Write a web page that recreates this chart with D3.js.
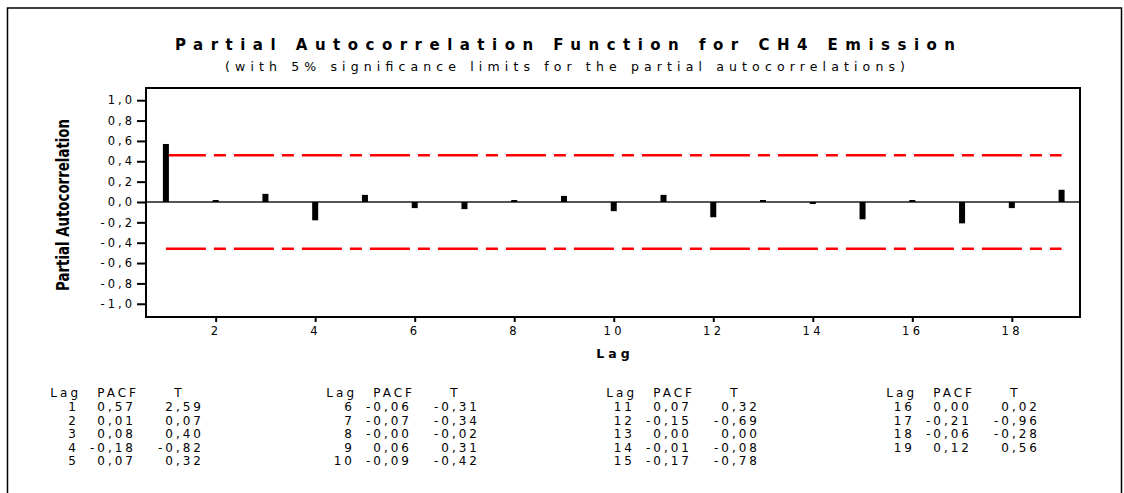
<!DOCTYPE html>
<html>
<head>
<meta charset="utf-8">
<script src="https://cdn.jsdelivr.net/npm/d3@7"></script>
<style>
  html, body { margin: 0; padding: 0; background: #fff; }
  svg { display: block; }
  text { font-family: "DejaVu Sans", Verdana, sans-serif; fill: #000; }
</style>
</head>
<body>
<svg id="chart" width="1124" height="493"></svg>
<script>
// ---- data ----
const lags = [1, 2, 3, 4, 5, 6, 7, 8, 9, 10, 11, 12, 13, 14, 15, 16, 17, 18, 19];
const pacf = [0.57, 0.01, 0.08, -0.18, 0.07, -0.06, -0.07, -0.00, 0.06, -0.09, 0.07, -0.15, 0.00, -0.01, -0.17, 0.00, -0.21, -0.06, 0.12];
const tStat = [2.59, 0.07, 0.40, -0.82, 0.32, -0.31, -0.34, -0.02, 0.31, -0.42, 0.32, -0.69, 0.00, -0.08, -0.78, 0.02, -0.96, -0.28, 0.56];
const pacfLabels = ["0,57", "0,01", "0,08", "-0,18", "0,07", "-0,06", "-0,07", "-0,00", "0,06", "-0,09", "0,07", "-0,15", "0,00", "-0,01", "-0,17", "0,00", "-0,21", "-0,06", "0,12"];
const tLabels = ["2,59", "0,07", "0,40", "-0,82", "0,32", "-0,31", "-0,34", "-0,02", "0,31", "-0,42", "0,32", "-0,69", "0,00", "-0,08", "-0,78", "0,02", "-0,96", "-0,28", "0,56"];
const yTicks = [1.0, 0.8, 0.6, 0.4, 0.2, 0.0, -0.2, -0.4, -0.6, -0.8, -1.0];
const yTickLabels = ["1,0", "0,8", "0,6", "0,4", "0,2", "0,0", "-0,2", "-0,4", "-0,6", "-0,8", "-1,0"];
const xTicks = [2, 4, 6, 8, 10, 12, 14, 16, 18];
const sigLimit = [0.46, -0.46];
const titleText = "Partial Autocorrelation Function for CH4 Emission";
const subtitleText = "(with 5% significance limits for the partial autocorrelations)";
const yTitle = "Partial Autocorrelation";
const xTitle = "Lag";

// ---- layout ----
const svg = d3.select("#chart");
const pL = 146, pR = 1080, pT = 88, pB = 317;

const x = d3.scaleLinear().domain([0.6, 19.37]).range([pL, pR]);
const y = d3.scaleLinear().domain([-1.13, 1.12]).range([pB, pT]);

// outer frame
svg.append("rect").attr("x", 7.5).attr("y", 8).attr("width", 1114).attr("height", 520)
  .attr("fill", "none").attr("stroke", "#000").attr("stroke-width", 1.5);

// title
svg.append("text").attr("x", 565).attr("y", 50).attr("text-anchor", "middle")
  .attr("font-size", 15).attr("font-weight", "bold")
  .attr("textLength", 780).attr("lengthAdjust", "spacing").text(titleText);
svg.append("text").attr("x", 565).attr("y", 71).attr("text-anchor", "middle")
  .attr("font-size", 12.5)
  .attr("textLength", 680).attr("lengthAdjust", "spacing").text(subtitleText);

// significance limits
const dash = "40,8,12,8";
svg.selectAll("line.sig").data(sigLimit).enter().append("line")
  .attr("class", "sig")
  .attr("x1", x(lags[0])).attr("x2", x(lags[lags.length - 1]))
  .attr("y1", d => y(d)).attr("y2", d => y(d))
  .attr("stroke", "#ff0000").attr("stroke-width", 2.5).attr("stroke-dasharray", dash);

// zero line
svg.append("line").attr("x1", pL).attr("x2", pR).attr("y1", y(0)).attr("y2", y(0))
  .attr("stroke", "#555").attr("stroke-width", 2);

// bars
const bw = 6;
svg.selectAll("rect.bar").data(lags).enter().append("rect")
  .attr("class", "bar")
  .attr("x", d => x(d) - bw / 2)
  .attr("y", (d, i) => {
    const h = Math.max(Math.abs(y(pacf[i]) - y(0)), 2);
    return pacf[i] >= 0 ? y(0) - h : y(0);
  })
  .attr("width", bw)
  .attr("height", (d, i) => Math.max(Math.abs(y(pacf[i]) - y(0)), 2))
  .attr("fill", "#000");

// box
svg.append("rect").attr("x", pL).attr("y", pT).attr("width", pR - pL).attr("height", pB - pT)
  .attr("fill", "none").attr("stroke", "#000").attr("stroke-width", 2);

// y axis
const yAxis = d3.axisLeft(y).tickValues(yTicks).tickSize(9).tickPadding(5)
  .tickFormat((d, i) => yTickLabels[i]);
const gy = svg.append("g").attr("transform", `translate(${pL},0)`).call(yAxis);
gy.select(".domain").remove();
gy.selectAll(".tick line").attr("stroke", "#000").attr("stroke-width", 2);
gy.selectAll(".tick text").attr("font-size", 11.5).attr("letter-spacing", 3)
  .attr("font-family", "DejaVu Sans, sans-serif").attr("dx", 3).attr("fill", "#000");

// x axis
const xAxis = d3.axisBottom(x).tickValues(xTicks).tickSize(5).tickPadding(5)
  .tickFormat(d3.format("d"));
const gx = svg.append("g").attr("transform", `translate(0,${pB})`).call(xAxis);
gx.select(".domain").remove();
gx.selectAll(".tick line").attr("stroke", "#000").attr("stroke-width", 2);
gx.selectAll(".tick text").attr("font-size", 11.5).attr("letter-spacing", 3.5)
  .attr("font-family", "DejaVu Sans, sans-serif").attr("dx", 0).attr("fill", "#000");

// axis titles
svg.append("text").attr("x", (pL + pR) / 2).attr("y", 358).attr("text-anchor", "middle")
  .attr("font-size", 12.5).attr("font-weight", "bold").attr("letter-spacing", 4).attr("dx", 2)
  .text(xTitle);
svg.append("text").attr("transform", "translate(69,205) rotate(-90)").attr("text-anchor", "middle")
  .attr("font-size", 17).attr("font-weight", "bold")
  .attr("textLength", 172).attr("lengthAdjust", "spacingAndGlyphs").text(yTitle);

// ---- table ----
const blocks = [[0, 5], [5, 10], [10, 15], [15, 19]];
const blockX = [76, 352, 632, 912];
const headerY = 397, rowY0 = 411, rowStep = 13.6;
const tf = 12, ls = 3;
blocks.forEach((b, bi) => {
  const bx = blockX[bi];
  const g = svg.append("g").attr("font-size", tf);
  g.append("text").attr("x", bx + 2 + ls).attr("y", headerY).attr("text-anchor", "end")
    .attr("letter-spacing", ls).attr("font-size", tf).text("Lag");
  g.append("text").attr("x", bx + 60 + ls).attr("y", headerY).attr("text-anchor", "end")
    .attr("letter-spacing", ls).attr("font-size", tf).text("PACF");
  g.append("text").attr("x", bx + 102).attr("y", headerY).attr("text-anchor", "middle")
    .attr("font-size", tf).text("T");
  const rows = lags.slice(b[0], b[1]);
  rows.forEach((lag, ri) => {
    const i = b[0] + ri;
    const yy = rowY0 + ri * rowStep;
    g.append("text").attr("x", bx + ls).attr("y", yy).attr("text-anchor", "end")
      .attr("letter-spacing", ls).attr("font-size", tf).text(String(lag));
    g.append("text").attr("x", bx + 57 + ls).attr("y", yy).attr("text-anchor", "end")
      .attr("letter-spacing", ls).attr("font-size", tf).text(pacfLabels[i]);
    g.append("text").attr("x", bx + 125 + ls).attr("y", yy).attr("text-anchor", "end")
      .attr("letter-spacing", ls).attr("font-size", tf).text(tLabels[i]);
  });
});
</script>
</body>
</html>
